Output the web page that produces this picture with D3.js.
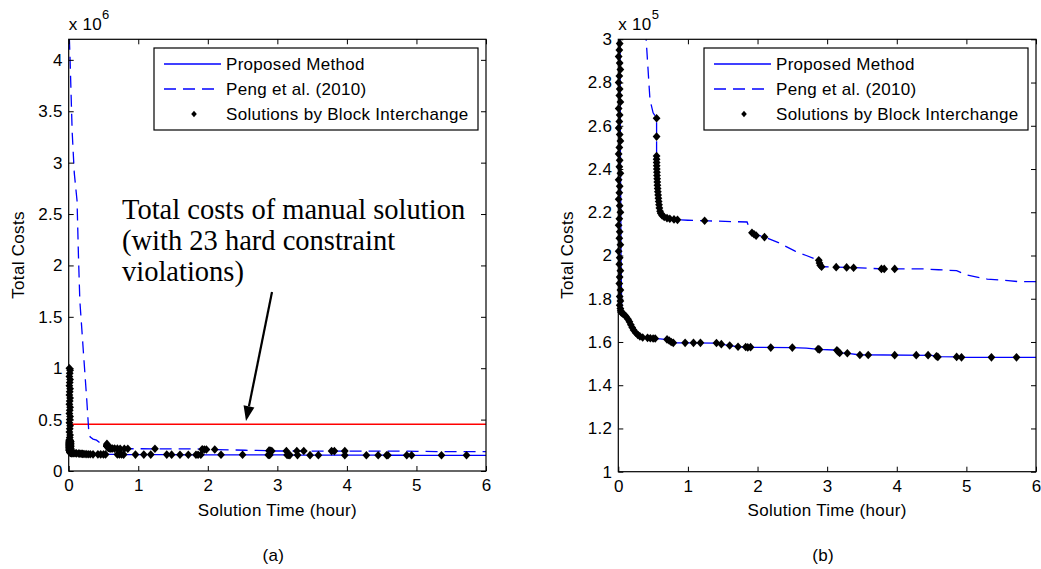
<!DOCTYPE html>
<html><head><meta charset="utf-8">
<script src="https://cdn.jsdelivr.net/npm/d3@7"></script>
<style>body{margin:0;background:#fff}svg{display:block}</style>
</head><body><svg id="c" width="1041" height="569"></svg>
<script>
// ---------- DATA (costs in units of 1e5) ----------
const xTicks = [0, 1, 2, 3, 4, 5, 6];
const leftYTicks = [0, 5, 10, 15, 20, 25, 30, 35, 40];
const leftYTickLabels = ["0", "0.5", "1", "1.5", "2", "2.5", "3", "3.5", "4"];
const rightYTicks = [1, 1.2, 1.4, 1.6, 1.8, 2, 2.2, 2.4, 2.6, 2.8, 3];
const rightYTickLabels = ["1", "1.2", "1.4", "1.6", "1.8", "2", "2.2", "2.4", "2.6", "2.8", "3"];
const seriesNames = ["Proposed Method", "Peng et al. (2010)", "Solutions by Block Interchange"];
const manualCost = 4.55;
const annotationLines = ["Total costs of manual solution", "(with 23 hard constraint", "violations)"];

const proposedLine = [[0,10.0],[0.01,6.5],[0.02,3.6],[0.03,2.5],[0.04,1.95],[0.05,1.75],[0.07,1.735],[0.1,1.722],[0.13,1.71],[0.15,1.7],[0.17,1.685],[0.19,1.672],[0.21,1.66],[0.24,1.645],[0.28,1.632],[0.33,1.623],[0.4,1.619],[0.5,1.616],[0.6,1.614],[0.7,1.611],[0.75,1.603],[0.8,1.596],[1.0,1.596],[1.4,1.595],[1.5,1.589],[1.6,1.583],[1.72,1.578],[1.9,1.575],[2.5,1.574],[2.7,1.572],[2.88,1.566],[3.1,1.563],[3.17,1.55],[3.3,1.547],[3.45,1.541],[4.5,1.538],[4.6,1.532],[4.9,1.531],[4.95,1.529],[6.0,1.529]];

const pengLine = [[0,44],[0.01,42],[0.02,40],[0.05,33],[0.08,29],[0.12,26.3],[0.14,21],[0.16,16.6],[0.21,11.7],[0.26,6.9],[0.29,3.7],[0.31,3.3],[0.35,3.1],[0.4,3.0],[0.455,2.72],[0.5,2.66],[0.55,2.635],[0.55,2.3],[0.57,2.25],[0.6,2.2],[0.63,2.185],[0.7,2.172],[0.8,2.166],[1.0,2.163],[1.3,2.16],[1.85,2.155],[1.9,2.11],[2.0,2.095],[2.1,2.085],[2.3,2.06],[2.54,2.02],[2.7,2.0],[2.87,1.978],[2.9,1.955],[2.95,1.948],[3.3,1.945],[3.8,1.938],[4.4,1.938],[4.6,1.934],[4.86,1.93],[5.0,1.91],[5.3,1.891],[5.6,1.884],[5.75,1.879],[6.0,1.879]];

const columnMarkers = [[0.01,10.0],[0.02,9.8],[0.015,9.5],[0.01,9.2],[0.02,8.9],[0.015,8.6],[0.01,8.3],[0.02,8.0],[0.015,7.7],[0.01,7.4],[0.02,7.1],[0.015,6.8],[0.01,6.5],[0.02,6.2],[0.015,5.9],[0.01,5.6],[0.02,5.3],[0.015,5.0],[0.01,4.7],[0.02,4.4],[0.015,4.1],[0.01,3.8],[0.02,3.5],[0.015,3.25],[0.01,3.05],[0.02,2.98],[0.015,2.95],[0.005,2.92],[0.02,2.89],[0.03,2.86],[0.015,2.83],[0.005,2.8],[0.02,2.77],[0.015,2.74],[0.03,2.71],[0.005,2.68],[0.02,2.65],[0.015,2.62],[0.005,2.59],[0.02,2.56],[0.03,2.53],[0.015,2.5],[0.005,2.47],[0.02,2.44],[0.015,2.41],[0.03,2.38],[0.005,2.35],[0.02,2.32],[0.015,2.29],[0.005,2.26],[0.02,2.23],[0.03,2.2],[0.015,2.17],[0.005,2.14],[0.02,2.11],[0.015,2.08],[0.03,2.05],[0.005,2.02],[0.02,1.99],[0.015,1.96],[0.03,1.93],[0.02,1.9],[0.015,1.87],[0.03,1.84],[0.02,1.81],[0.03,1.79],[0.02,1.77],[0.03,1.755],[0.035,1.745],[0.04,1.738]];

const proposedMarkers = [[0.05,1.735],[0.07,1.73],[0.09,1.725],[0.11,1.718],[0.14,1.705],[0.16,1.693],[0.18,1.68],[0.2,1.667],[0.22,1.655],[0.25,1.643],[0.28,1.633],[0.31,1.626],[0.35,1.621],[0.42,1.619],[0.46,1.617],[0.5,1.616],[0.53,1.616],[0.7,1.612],[0.73,1.607],[0.76,1.6],[0.79,1.596],[0.96,1.596],[1.08,1.596],[1.18,1.596],[1.41,1.595],[1.48,1.59],[1.6,1.584],[1.72,1.578],[1.83,1.577],[1.86,1.575],[1.9,1.576],[2.19,1.574],[2.5,1.574],[2.87,1.567],[2.89,1.565],[3.14,1.562],[3.16,1.555],[3.18,1.549],[3.29,1.548],[3.47,1.54],[3.59,1.54],[3.97,1.539],[4.28,1.539],[4.45,1.539],[4.57,1.534],[4.59,1.531],[4.86,1.531],[4.93,1.529],[5.36,1.529],[5.72,1.529]];

const pengMarkers = [[0.55,2.635],[0.55,2.55],[0.55,2.46],[0.55,2.445],[0.551,2.43],[0.552,2.415],[0.553,2.4],[0.555,2.385],[0.556,2.37],[0.558,2.355],[0.56,2.34],[0.562,2.325],[0.565,2.31],[0.568,2.295],[0.572,2.28],[0.576,2.265],[0.58,2.25],[0.585,2.235],[0.59,2.22],[0.6,2.205],[0.61,2.195],[0.63,2.185],[0.66,2.178],[0.7,2.173],[0.74,2.17],[0.8,2.167],[0.85,2.165],[1.24,2.161],[1.92,2.105],[1.95,2.098],[1.98,2.092],[2.1,2.085],[2.88,1.978],[2.89,1.965],[2.9,1.955],[2.92,1.948],[3.13,1.946],[3.28,1.945],[3.38,1.943],[3.78,1.938],[3.82,1.938],[3.97,1.938]];

// ---------- DRAWING ----------
const svg = d3.select("#c");
const FONT = "Liberation Sans, Arial, sans-serif";
const FS = 17, LS = 0.3;
const BLUE = "#0000ff";
const markerPath = "M0,-4.3L3.9,0L0,4.3L-3.9,0Z";

const panels = [
  {id: "a", px: [68.7, 486], py: [471, 39.3], yDomain: [0, 42], yTicks: leftYTicks, yLabels: leftYTickLabels,
   exp: "6", caption: "(a)", showManual: true},
  {id: "b", px: [618.3, 1036], py: [471.7, 39.3], yDomain: [1, 3], yTicks: rightYTicks, yLabels: rightYTickLabels,
   exp: "5", caption: "(b)", showManual: false}
];

const sans = sel => sel.attr("font-family", FONT).attr("font-size", FS).attr("letter-spacing", LS).attr("fill", "#000");

panels.forEach(p => {
  const x = d3.scaleLinear().domain([0, 6]).range(p.px);
  const y = d3.scaleLinear().domain(p.yDomain).range(p.py);
  const g = svg.append("g");
  const L = p.px[0], R = p.px[1], B = p.py[0], T = p.py[1];

  svg.append("clipPath").attr("id", "clip" + p.id).append("rect")
    .attr("x", L).attr("y", T).attr("width", R - L).attr("height", B - T);

  const plot = g.append("g").attr("clip-path", `url(#clip${p.id})`);
  const line = d3.line().x(d => x(d[0])).y(d => y(d[1]));

  if (p.showManual) {
    plot.append("line").attr("x1", x(0)).attr("x2", x(6)).attr("y1", y(manualCost)).attr("y2", y(manualCost))
      .attr("stroke", "#ff0000").attr("stroke-width", 1.4);
  }
  plot.append("path").datum(pengLine).attr("d", line).attr("fill", "none")
    .attr("stroke", BLUE).attr("stroke-width", 1.3).attr("stroke-dasharray", "12,7");
  plot.append("path").datum(proposedLine).attr("d", line).attr("fill", "none")
    .attr("stroke", BLUE).attr("stroke-width", 1.3);

  const allMarkers = columnMarkers.concat(proposedMarkers, pengMarkers)
    .filter(d => d[1] <= p.yDomain[1] + 0.005 && d[1] >= p.yDomain[0]);
  g.append("g").selectAll("path").data(allMarkers).join("path")
    .attr("d", markerPath).attr("transform", d => `translate(${x(d[0])},${y(d[1])})`).attr("fill", "#000");

  // axes (ticks inward, box on)
  const styleAxis = sel => {
    sel.select(".domain").remove();
    sel.selectAll("line").attr("stroke", "#000").attr("stroke-width", 1);
    sel.selectAll("text").call(sans);
  };
  g.append("g").attr("transform", `translate(0,${B})`)
    .call(d3.axisBottom(x).tickValues(xTicks).tickSize(-5).tickPadding(8).tickFormat(d3.format("d"))).call(styleAxis);
  g.append("g").attr("transform", `translate(0,${T})`)
    .call(d3.axisTop(x).tickValues(xTicks).tickSize(-5).tickFormat("")).call(styleAxis);
  g.append("g").attr("transform", `translate(${L},0)`)
    .call(d3.axisLeft(y).tickValues(p.yTicks).tickSize(-5).tickPadding(6).tickFormat((d, i) => p.yLabels[i])).call(styleAxis);
  g.append("g").attr("transform", `translate(${R},0)`)
    .call(d3.axisRight(y).tickValues(p.yTicks).tickSize(-5).tickFormat("")).call(styleAxis);
  g.append("rect").attr("x", L).attr("y", T).attr("width", R - L).attr("height", B - T)
    .attr("fill", "none").attr("stroke", "#000").attr("stroke-width", 1.2);

  // exponent
  const ex = g.append("text").attr("x", L).attr("y", 30).call(sans);
  ex.append("tspan").text("x 10");
  ex.append("tspan").attr("dy", -11).attr("font-size", 13).text(p.exp);

  // axis labels
  g.append("text").attr("x", (L + R) / 2).attr("y", 516).attr("text-anchor", "middle").call(sans).text("Solution Time (hour)");
  g.append("text").attr("transform", `translate(${L - 45},255) rotate(-90)`).attr("text-anchor", "middle").call(sans).text("Total Costs");
  g.append("text").attr("x", (L + R) / 2 - 4).attr("y", 561).attr("text-anchor", "middle").call(sans).text(p.caption);

  // legend
  const lx = R - 332, ly = 48;
  const leg = g.append("g");
  leg.append("rect").attr("x", lx).attr("y", ly).attr("width", 324).attr("height", 82)
    .attr("fill", "#fff").attr("stroke", "#000").attr("stroke-width", 1.2);
  const rows = [64, 89, 114];
  leg.append("line").attr("x1", lx + 10).attr("x2", lx + 67).attr("y1", rows[0]).attr("y2", rows[0])
    .attr("stroke", BLUE).attr("stroke-width", 1.3);
  leg.append("line").attr("x1", lx + 10).attr("x2", lx + 67).attr("y1", rows[1]).attr("y2", rows[1])
    .attr("stroke", BLUE).attr("stroke-width", 1.3).attr("stroke-dasharray", "12,7");
  leg.append("path").attr("d", "M0,-3.3L2.8,0L0,3.3L-2.8,0Z").attr("transform", `translate(${lx + 40},${rows[2]})`).attr("fill", "#000");
  seriesNames.forEach((s, i) => {
    leg.append("text").attr("x", lx + 72).attr("y", rows[i] + 6).call(sans).text(s);
  });

  if (p.showManual) {
    const ann = g.append("text").attr("font-family", "Liberation Serif, Times New Roman, serif").attr("font-size", 28.5);
    annotationLines.forEach((t, i) => {
      ann.append("tspan").attr("x", 122).attr("y", 219 + i * 31).text(t);
    });
    // arrow
    const x1 = 272, y1 = 292, x2 = 246, y2 = 421;
    const ang = Math.atan2(y2 - y1, x2 - x1);
    const hl = 15, hw = 5.5;
    const bx = x2 - hl * Math.cos(ang), by = y2 - hl * Math.sin(ang);
    g.append("line").attr("x1", x1).attr("y1", y1).attr("x2", bx).attr("y2", by)
      .attr("stroke", "#000").attr("stroke-width", 2.2);
    g.append("path").attr("d", `M${x2},${y2}L${bx + hw * Math.sin(ang)},${by - hw * Math.cos(ang)}L${bx - hw * Math.sin(ang)},${by + hw * Math.cos(ang)}Z`)
      .attr("fill", "#000");
  }
});
</script>
</body></html>
